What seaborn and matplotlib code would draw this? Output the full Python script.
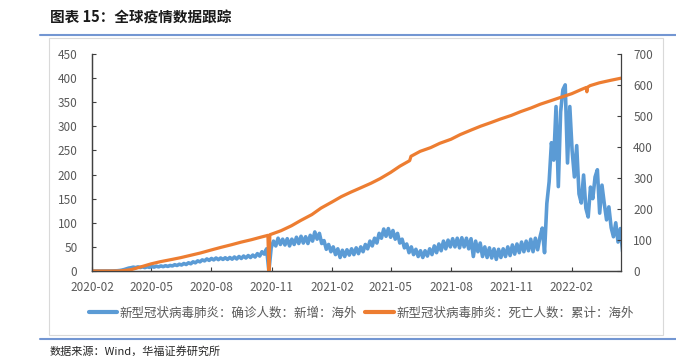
import pandas as pd
import matplotlib.pyplot as plt
from matplotlib.lines import Line2D
from matplotlib.patches import Rectangle
import seaborn as sns

# daily new cases outside China (10k), one reading every 3.5 days from 2020-02-01
new_cases = [
    0, 0, 0, 0, 0, 0, 0, 0, 0.1, 0.2, 0.3,
    0.5, 1.0, 1.8, 3.0, 4.5, 6.0, 6.8,
    8.0, 7.0, 8.5, 7.2, 8.6, 7.0, 8.8, 7.5,
    9.5, 8, 10, 8.5, 10.5, 9, 11, 9.5, 11.5,
    10.5, 13, 11.5, 14, 12.5, 15.5, 13.5, 17, 15,
    19, 17, 21, 19, 23, 21, 25, 22, 26,
    23, 27, 23.5, 27, 24, 27.5, 24, 28, 24.5,
    29, 25, 30, 26, 31, 27, 32, 28,
    33, 29, 36, 31, 40, 35, 46, 0,
    48, 62, 52, 68, 55, 66, 54, 67, 52, 66,
    55, 70, 57, 72, 58, 71, 57, 74, 62, 81,
    66, 78, 57, 63, 45, 55, 40, 50, 34, 46,
    28, 43, 30, 44, 33, 46, 34, 48, 36, 50,
    40, 55, 46, 62, 52, 68, 58, 78, 68, 87,
    72, 88, 70, 84, 66, 78, 58, 66, 48, 56,
    38, 50, 34, 45, 30, 42, 28, 42, 31, 46,
    34, 52, 38, 56, 42, 62, 46, 64, 50, 67,
    50, 68, 48, 69, 50, 68, 46, 67, 30, 62,
    40, 58, 30, 50, 28, 48, 27, 46, 24, 45,
    28, 46, 30, 50, 32, 54, 35, 56, 38, 60,
    40, 62, 42, 66, 40, 68, 44, 70, 89, 38,
    140, 185, 266, 230, 341, 175, 330, 376, 386, 224,
    341, 250, 195, 260, 160, 141, 199, 130, 112, 174,
    150, 195, 210, 120, 178, 140, 106, 133, 90, 71,
    100, 60, 88, 40,
]
case_start = "2020-02-01"

# cumulative deaths outside China (10k)
death_dates = [
    "2020-02-01 00:00", "2020-03-01 00:00", "2020-03-15 00:00", "2020-04-01 00:00", "2020-04-15 00:00",
    "2020-05-01 00:00", "2020-05-15 00:00", "2020-06-01 00:00", "2020-06-15 00:00", "2020-07-01 00:00",
    "2020-07-15 00:00", "2020-08-01 00:00", "2020-08-15 00:00", "2020-09-01 00:00", "2020-09-15 00:00",
    "2020-10-01 00:00", "2020-10-15 00:00", "2020-10-26 00:00", "2020-10-27 12:00", "2020-10-29 00:00",
    "2020-11-15 00:00", "2020-12-01 00:00", "2020-12-15 00:00", "2021-01-01 00:00", "2021-01-15 00:00",
    "2021-02-01 00:00", "2021-02-15 00:00", "2021-03-01 00:00", "2021-03-15 00:00", "2021-04-01 00:00",
    "2021-04-15 00:00", "2021-05-01 00:00", "2021-05-15 00:00", "2021-05-30 00:00", "2021-06-01 00:00",
    "2021-06-15 00:00", "2021-07-01 00:00", "2021-07-15 00:00", "2021-08-01 00:00", "2021-08-15 00:00",
    "2021-09-01 00:00", "2021-09-15 00:00", "2021-10-01 00:00", "2021-10-15 00:00", "2021-11-01 00:00",
    "2021-11-15 00:00", "2021-12-01 00:00", "2021-12-15 00:00", "2022-01-01 00:00", "2022-01-15 00:00",
    "2022-02-01 00:00", "2022-02-15 00:00", "2022-02-23 00:00", "2022-02-24 00:00", "2022-02-25 00:00",
    "2022-03-01 00:00", "2022-03-15 00:00", "2022-04-01 00:00", "2022-04-17 00:00",
]
deaths = [
    0, 0, 0.3, 4.5, 13,
    23, 30, 37, 43, 51,
    58, 68, 76, 85, 93,
    101, 109, 115, 0, 117,
    130, 146, 163, 182, 203,
    223, 240, 254, 267, 283,
    298, 318, 338, 356, 370,
    386, 398, 412, 425, 440,
    455, 467, 479, 490, 502,
    514, 526, 538, 550, 560,
    572, 585, 592, 578, 593,
    598, 607, 615, 622,
]

x_ticks = ["2020-02", "2020-05", "2020-08", "2020-11", "2021-02",
           "2021-05", "2021-08", "2021-11", "2022-02"]
left_ticks = list(range(0, 451, 50))
right_ticks = list(range(0, 701, 100))

blue_label = "新型冠状病毒肺炎：确诊人数：新增：海外"
orange_label = "新型冠状病毒肺炎：死亡人数：累计：海外"
title = "图表 15：全球疫情数据跟踪"
source = "数据来源：Wind，华福证券研究所"

blue = "#5B9BD5"
orange = "#ED7D31"
grey_txt = "#595959"
axis_col = "#404040"

sns.set_style("ticks")
plt.rcParams["font.family"] = ["Noto Sans CJK SC", "DejaVu Sans"]

cases_df = pd.DataFrame({
    "date": pd.date_range(case_start, periods=len(new_cases), freq="84h"),
    "value": new_cases,
})
deaths_df = pd.DataFrame({"date": pd.to_datetime(death_dates, format="%Y-%m-%d %H:%M"),
                          "value": deaths})

fig = plt.figure(figsize=(6.76, 3.56), dpi=100)
ax = fig.add_axes([92 / 676, 1 - 271 / 356, (621 - 92) / 676, (271 - 54) / 356])

sns.lineplot(data=cases_df, x="date", y="value", ax=ax, color=blue, linewidth=2.6)
ax2 = ax.twinx()
sns.lineplot(data=deaths_df, x="date", y="value", ax=ax2, color=orange, linewidth=2.3)

ax.set_xlim(pd.Timestamp("2020-02-01"), pd.Timestamp("2022-04-17"))
ax.set_ylim(0, 450)
ax2.set_ylim(0, 700)
ax.set_xticks(pd.to_datetime(x_ticks, format="%Y-%m"))
ax.set_xticklabels(x_ticks)
ax.set_yticks(left_ticks)
ax2.set_yticks(right_ticks)
for a in (ax, ax2):
    a.set_xlabel("")
    a.set_ylabel("")
    a.spines["top"].set_visible(False)
    for s in a.spines.values():
        s.set_color(axis_col)
        s.set_linewidth(0.9)
ax.spines["right"].set_visible(False)

ax.tick_params(axis="y", direction="in", length=3, color=axis_col,
               labelsize=8.5, labelcolor=grey_txt, pad=10.5)
ax.tick_params(axis="x", direction="in", length=3, color=axis_col,
               labelsize=8.5, labelcolor=grey_txt, pad=7)
ax2.tick_params(axis="y", direction="in", length=3, color=axis_col,
                labelsize=8.5, labelcolor=grey_txt, pad=8.8)

handles = [Line2D([], [], color=blue, lw=3), Line2D([], [], color=orange, lw=3)]
fig.legend(handles, [blue_label, orange_label], loc="center",
           bbox_to_anchor=(361 / 676, 1 - 313 / 356), ncol=2, frameon=False,
           fontsize=9, handlelength=2.3, handletextpad=0.2, columnspacing=0.6,
           labelcolor=grey_txt)

fig.text(50 / 676, 1 - 18 / 356, title, fontsize=10.5, fontweight="bold",
         va="center", ha="left", color="#1a1a1a")
fig.text(50 / 676, 1 - 351 / 356, source, fontsize=8, va="center", ha="left",
         color="#262626")

fig.add_artist(Rectangle((49 / 676, 1 - 335 / 356), (663 - 49) / 676, (335 - 38) / 356,
                         transform=fig.transFigure, fill=False,
                         edgecolor="#d9d9d9", linewidth=0.8))
for yy in (35, 339):
    fig.add_artist(Line2D([40 / 676, 1], [1 - yy / 356] * 2, transform=fig.transFigure,
                          color="#7396D2", linewidth=1.5))

fig.savefig("out.png", dpi=100)
